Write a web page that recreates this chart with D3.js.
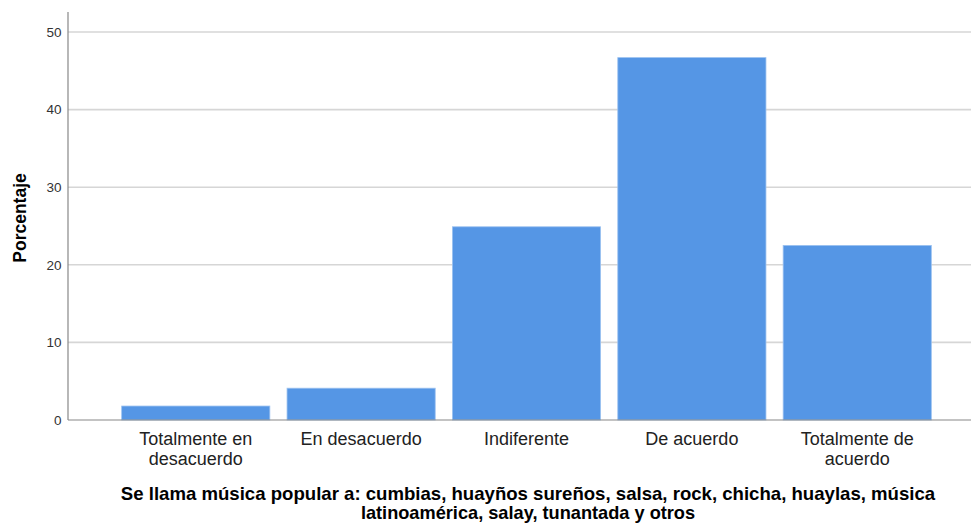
<!DOCTYPE html>
<html><head><meta charset="utf-8">
<script src="https://cdn.jsdelivr.net/npm/d3@7"></script>
<style>body{margin:0;background:#fff}svg{display:block}</style>
</head><body>
<script>
const categories = [["Totalmente en","desacuerdo"],["En desacuerdo"],["Indiferente"],["De acuerdo"],["Totalmente de","acuerdo"]];
const values = [1.8, 4.1, 24.9, 46.7, 22.5];
const yTicks = [0, 10, 20, 30, 40, 50];
const yLabel = "Porcentaje";
const xTitle = ["Se llama música popular a: cumbias, huayños sureños, salsa, rock, chicha, huaylas, música","latinoamérica, salay, tunantada y otros"];

const W = 971, H = 524;
const FONT = "Liberation Sans, Arial, sans-serif";
const svg = d3.select("body").append("svg").attr("width", W).attr("height", H);
const x0 = 68, y0 = 420;
const y = d3.scaleLinear().domain([0, 50]).range([y0, 32]);
const x = d3.scaleBand().domain(d3.range(categories.length)).range([113.4, 939.6]).paddingInner(0.104).paddingOuter(0.05);

// gridlines
svg.append("g").selectAll("line").data(yTicks.filter(d => d > 0)).join("line")
  .attr("x1", x0).attr("x2", W).attr("y1", d => y(d)).attr("y2", d => y(d))
  .attr("stroke", "#d6d6d6").attr("stroke-width", 1.6);

// bars
svg.append("g").selectAll("rect").data(values).join("rect")
  .attr("x", (d, i) => x(i)).attr("width", x.bandwidth())
  .attr("y", d => y(d)).attr("height", d => y0 - y(d))
  .attr("fill", "#5596e5").attr("stroke", "#9cc2f0").attr("stroke-width", 0.8);

// y axis
const yAxis = d3.axisLeft(y).tickValues(yTicks).tickSize(0).tickPadding(6.5);
const ga = svg.append("g").attr("transform", `translate(${x0},0)`).call(yAxis);
ga.select(".domain").remove();
ga.selectAll("text").attr("font-family", FONT).attr("font-size", 13.5).attr("fill", "#333");
svg.append("line").attr("x1", x0).attr("x2", x0).attr("y1", 12).attr("y2", y0).attr("stroke", "#888").attr("stroke-width", 1.2);
svg.append("line").attr("x1", x0).attr("x2", W).attr("y1", y0).attr("y2", y0).attr("stroke", "#888").attr("stroke-width", 1.2);

// x labels
const xl = svg.append("g");
categories.forEach((lines, i) => {
  lines.forEach((l, j) => xl.append("text").attr("text-anchor", "middle")
    .attr("font-family", FONT).attr("font-size", 18).attr("fill", "#222")
    .attr("x", x(i) + x.bandwidth() / 2).attr("y", 445 + j * 19.5).text(l));
});

// y title
svg.append("text").attr("transform", "translate(26,218) rotate(-90)").attr("text-anchor", "middle")
  .attr("font-family", FONT).attr("font-size", 17.5).attr("font-weight", "bold").attr("fill", "#000")
  .text(yLabel);

// x title
xTitle.forEach((l, j) => svg.append("text").attr("text-anchor", "middle")
  .attr("font-family", FONT).attr("font-size", j === 0 ? 18.6 : 18.2).attr("font-weight", "bold").attr("fill", "#000")
  .attr("x", 528).attr("y", 500 + j * 18.5).text(l));
</script>
</body></html>
